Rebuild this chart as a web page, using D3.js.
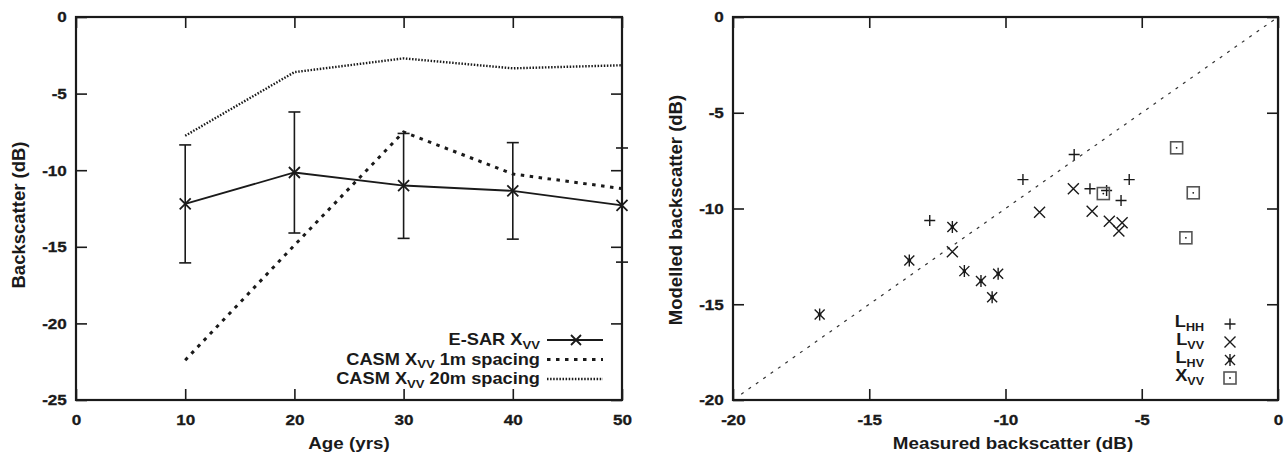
<!DOCTYPE html>
<html>
<head>
<meta charset="utf-8">
<script src="https://cdn.jsdelivr.net/npm/d3@7"></script>
<style>
  body { margin: 0; background: #fff; }
  svg { display: block; font-family: "Liberation Sans", Arial, sans-serif; font-weight: bold; }
</style>
</head>
<body>
<svg id="chart" width="1286" height="457"></svg>
<script>
// left panel: backscatter vs stand age
const ages = [10, 20, 30, 40, 50];
const esar = [-12.2, -10.15, -11.0, -11.35, -12.3];
const esarHigh = [-8.35, -6.2, -7.6, -8.2, -8.55];
const esarLow = [-16.05, -14.1, -14.45, -14.5, -16.0];
const casm1m = [-22.4, -14.9, -7.5, -10.25, -11.2];
const casm20m = [-7.75, -3.6, -2.7, -3.35, -3.15];
const ageTicks = [0, 10, 20, 30, 40, 50];
const dbTicksLeft = [0, -5, -10, -15, -20, -25];

// right panel: modelled vs measured
const lhhMeasured = [-7.48, -9.36, -5.46, -6.9, -6.29, -5.76, -12.78];
const lhhModelled = [-7.18, -8.49, -8.49, -8.97, -9.06, -9.58, -10.63];
const lvvMeasured = [-7.51, -8.75, -6.82, -6.19, -5.72, -5.84, -11.95];
const lvvModelled = [-8.97, -10.19, -10.14, -10.66, -10.75, -11.18, -12.26];
const lhvMeasured = [-16.82, -13.53, -11.95, -11.51, -10.9, -10.27, -10.49];
const lhvModelled = [-15.53, -12.71, -10.97, -13.27, -13.79, -13.41, -14.63];
const xvvMeasured = [-3.72, -3.11, -3.38, -6.41];
const xvvModelled = [-6.83, -9.18, -11.53, -9.22];
const dbTicksRight = [-20, -15, -10, -5, 0];

const ink = "#1a1a1a";
const stretch = "scale(1.14,1)"; // the source figure is a bit wide
const svg = d3.select("#chart");

const plotTop = 17, plotBottom = 400, tickLen = 11;

function frame(g, x, y, xTicks, yTicks) {
    const fmt = d => String(d);
    g.append("g")
        .attr("transform", `translate(0,${plotBottom})`)
        .call(d3.axisBottom(x).tickValues(xTicks).tickSize(-tickLen).tickPadding(14).tickFormat(fmt))
        .call(a => a.select(".domain").remove());
    g.append("g")
        .attr("transform", `translate(0,${plotTop})`)
        .call(d3.axisTop(x).tickValues(xTicks).tickSize(-tickLen).tickFormat(""))
        .call(a => a.select(".domain").remove());
    g.append("g")
        .attr("transform", `translate(${x.range()[0]},0)`)
        .call(d3.axisLeft(y).tickValues(yTicks).tickSize(-tickLen).tickPadding(8).tickFormat(fmt))
        .call(a => a.select(".domain").remove());
    g.append("g")
        .attr("transform", `translate(${x.range()[1]},0)`)
        .call(d3.axisRight(y).tickValues(yTicks).tickSize(-tickLen).tickFormat(""))
        .call(a => a.select(".domain").remove());
    g.selectAll(".tick line").attr("stroke", ink).attr("stroke-width", 1.6);
    g.selectAll(".tick text")
        .attr("fill", ink)
        .attr("stroke", ink).attr("stroke-width", 0.3)
        .attr("transform", stretch)
        .attr("font-size", 15).attr("font-weight", "bold")
        .attr("font-family", "'Liberation Sans', Arial, sans-serif");
    g.append("rect")
        .attr("x", x.range()[0]).attr("y", plotTop)
        .attr("width", x.range()[1] - x.range()[0]).attr("height", plotBottom - plotTop)
        .attr("fill", "none").attr("stroke", ink).attr("stroke-width", 2.2);
}

function subText(g, x, y, parts, anchor, subSize) {
    const t = g.append("text").attr("transform", `translate(${x},${y}) ${stretch}`)
        .attr("text-anchor", anchor).attr("fill", ink).style("font-size", "16px");
    let shifted = false;
    parts.forEach(p => {
        const s = t.append("tspan").text(p[0]);
        if (p[1]) s.style("font-size", subSize + "px");
        if (p[1] && !shifted) { s.attr("dy", 3.5); shifted = true; }
        else if (!p[1] && shifted) { s.attr("dy", -3.5); shifted = false; }
    });
    return t;
}

// ---------- left panel ----------
const xL = d3.scaleLinear().domain([0, 50]).range([76, 622]);
const yL = d3.scaleLinear().domain([-25, 0]).range([plotBottom, plotTop]);
const gL = svg.append("g");

const lineL = d3.line().x(d => xL(d[0])).y(d => yL(d[1]));

gL.append("path").datum(d3.zip(ages, casm20m)).attr("d", lineL)
    .attr("fill", "none").attr("stroke", ink).attr("stroke-width", 2.4).attr("stroke-dasharray", "1.5,1.6");
gL.append("path").datum(d3.zip(ages, casm1m)).attr("d", lineL)
    .attr("fill", "none").attr("stroke", ink).attr("stroke-width", 3).attr("stroke-dasharray", "3.5,5.5");
gL.append("path").datum(d3.zip(ages, esar)).attr("d", lineL)
    .attr("fill", "none").attr("stroke", ink).attr("stroke-width", 1.8);

const bars = gL.selectAll(".err").data(d3.range(ages.length)).join("g").attr("class", "err")
    .attr("stroke", ink).attr("stroke-width", 1.6);
bars.append("line").attr("x1", i => xL(ages[i])).attr("x2", i => xL(ages[i]))
    .attr("y1", i => yL(esarHigh[i])).attr("y2", i => yL(esarLow[i]));
bars.append("line").attr("x1", i => xL(ages[i]) - 6).attr("x2", i => xL(ages[i]) + 6)
    .attr("y1", i => yL(esarHigh[i])).attr("y2", i => yL(esarHigh[i]));
bars.append("line").attr("x1", i => xL(ages[i]) - 6).attr("x2", i => xL(ages[i]) + 6)
    .attr("y1", i => yL(esarLow[i])).attr("y2", i => yL(esarLow[i]));

const crossPath = r => `M${-r},${-r}L${r},${r}M${-r},${r}L${r},${-r}`;
const plusPath = r => `M${-r},0L${r},0M0,${-r}L0,${r}`;

gL.selectAll(".mk").data(d3.zip(ages, esar)).join("path").attr("class", "mk")
    .attr("transform", d => `translate(${xL(d[0])},${yL(d[1])})`)
    .attr("d", crossPath(5.5)).attr("stroke", ink).attr("stroke-width", 1.8).attr("fill", "none");

frame(gL, xL, yL, ageTicks, dbTicksLeft);

// legend
const legL = gL.append("g");
const legRows = [
    { y: 340, parts: [["E-SAR X"], ["VV", 1]], dash: null, w: 1.8 },
    { y: 359.5, parts: [["CASM X"], ["VV", 1], [" 1m spacing"]], dash: "3.5,5.5", w: 3 },
    { y: 379, parts: [["CASM X"], ["VV", 1], [" 20m spacing"]], dash: "1.5,1.6", w: 2.4 }
];
legRows.forEach((r, i) => {
    subText(legL, 540, r.y + 5, r.parts, "end", 11.5);
    legL.append("line").attr("x1", 547).attr("x2", 603).attr("y1", r.y).attr("y2", r.y)
        .attr("stroke", ink).attr("stroke-width", r.w).attr("stroke-dasharray", r.dash);
    if (i === 0) legL.append("path").attr("transform", `translate(576,${r.y})`)
        .attr("d", crossPath(5)).attr("stroke", ink).attr("stroke-width", 1.8).attr("fill", "none");
});

gL.append("text").attr("transform", `translate(349,449) ${stretch}`).attr("text-anchor", "middle")
    .attr("fill", ink).style("font-size", "16.5px").text("Age (yrs)");
gL.append("text").attr("transform", "translate(25,215) rotate(-90)").attr("text-anchor", "middle")
    .attr("fill", ink).style("font-size", "18.5px").text("Backscatter (dB)");

// ---------- right panel ----------
const xR = d3.scaleLinear().domain([-20, 0]).range([733, 1278]);
const yR = d3.scaleLinear().domain([-20, 0]).range([plotBottom, plotTop]);
const gR = svg.append("g");

gR.append("line")
    .attr("x1", xR(-19.7)).attr("y1", yR(-19.7)).attr("x2", xR(0)).attr("y2", yR(0))
    .attr("stroke", "#333").attr("stroke-width", 1.2).attr("stroke-dasharray", "3,6");

function drawSymbol(sel, kind) {
    if (kind === "plus") {
        sel.append("path").attr("d", plusPath(5.5)).attr("stroke", ink).attr("stroke-width", 1.4);
    } else if (kind === "cross") {
        sel.append("path").attr("d", crossPath(5.5)).attr("stroke", ink).attr("stroke-width", 1.4);
    } else if (kind === "star") {
        sel.append("path").attr("d", crossPath(5) + "M0,-6L0,6").attr("stroke", ink).attr("stroke-width", 1.4);
        sel.append("circle").attr("r", 1.8).attr("fill", ink);
    } else {
        sel.append("rect").attr("x", -6).attr("y", -6).attr("width", 12).attr("height", 12)
            .attr("fill", "none").attr("stroke", "#555").attr("stroke-width", 1.6);
        sel.append("circle").attr("r", 0.9).attr("fill", ink);
    }
}

function drawMarks(xs, ys, kind) {
    const sel = gR.append("g").selectAll("g").data(d3.zip(xs, ys)).join("g")
        .attr("transform", d => `translate(${xR(d[0])},${yR(d[1])})`);
    drawSymbol(sel, kind);
}

drawMarks(lhhMeasured, lhhModelled, "plus");
drawMarks(lvvMeasured, lvvModelled, "cross");
drawMarks(lhvMeasured, lhvModelled, "star");
drawMarks(xvvMeasured, xvvModelled, "square");

frame(gR, xR, yR, dbTicksRight, dbTicksRight);

const legR = gR.append("g");
[
    { y: 324, lead: "L", sub: "HH", kind: "plus" },
    { y: 342, lead: "L", sub: "VV", kind: "cross" },
    { y: 360, lead: "L", sub: "HV", kind: "star" },
    { y: 378, lead: "X", sub: "VV", kind: "square" }
].forEach(r => {
    subText(legR, 1204, r.y + 3, [[r.lead], [r.sub, 1]], "end", 11);
    drawSymbol(legR.append("g").attr("transform", `translate(1230,${r.y})`), r.kind);
});

gR.append("text").attr("transform", `translate(1013,449) ${stretch}`).attr("text-anchor", "middle")
    .attr("fill", ink).style("font-size", "16.5px").text("Measured backscatter (dB)");
gR.append("text").attr("transform", "translate(682,210) rotate(-90)").attr("text-anchor", "middle")
    .attr("fill", ink).style("font-size", "18.5px").text("Modelled backscatter (dB)");
</script>
</body>
</html>
